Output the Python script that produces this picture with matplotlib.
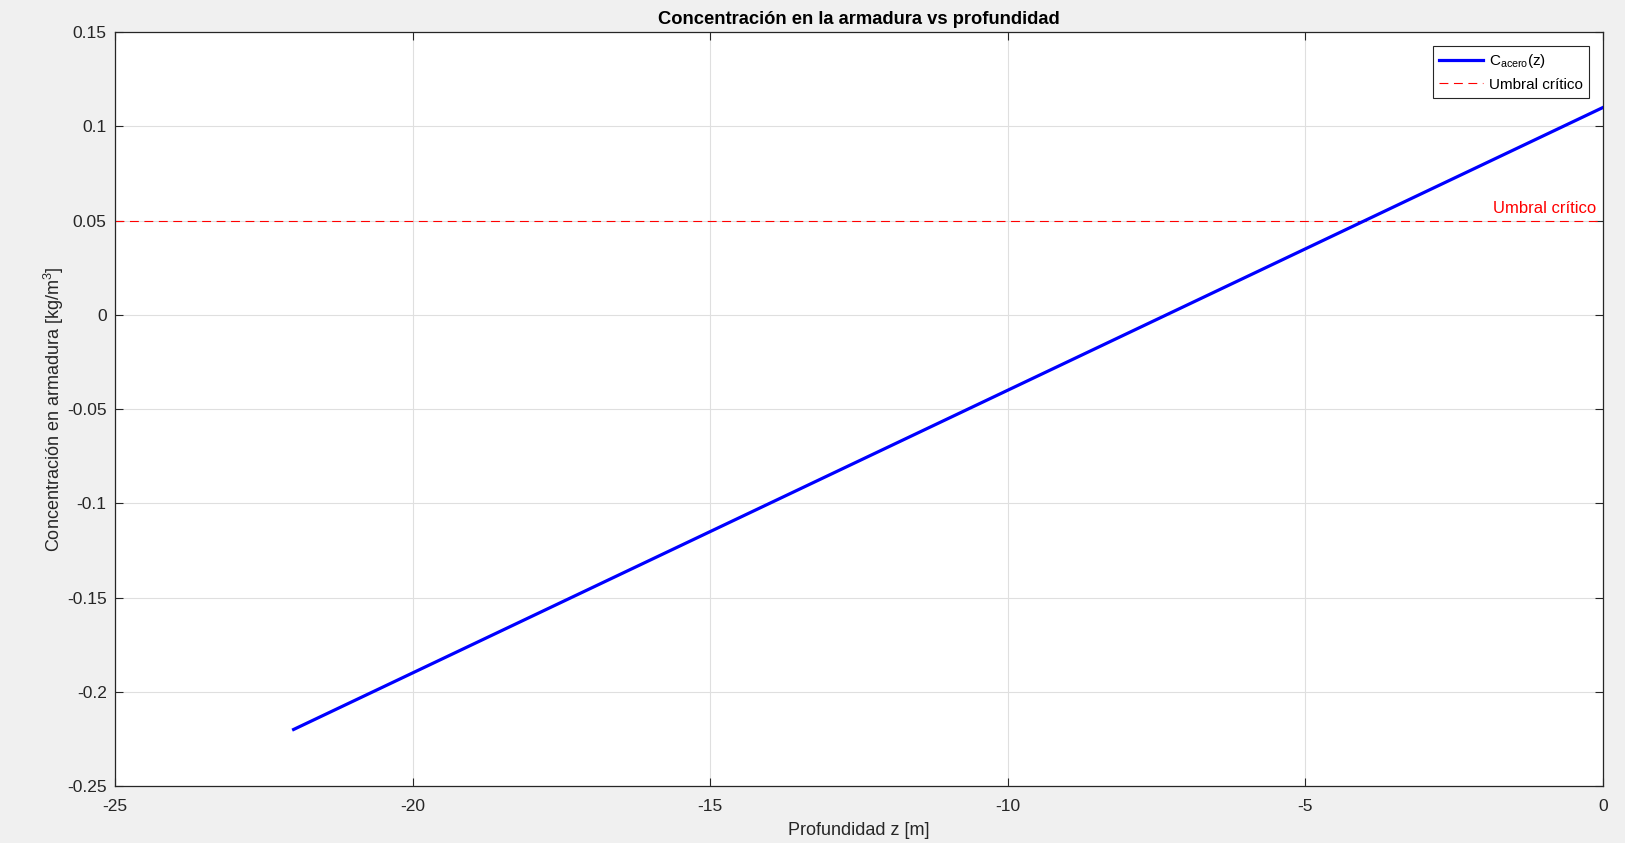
import matplotlib.pyplot as plt
from matplotlib.ticker import FuncFormatter, MultipleLocator

plt.rcParams['font.family'] = ['Liberation Sans', 'DejaVu Sans']
plt.rcParams['mathtext.fontset'] = 'custom'
plt.rcParams['mathtext.rm'] = 'Liberation Sans'
plt.rcParams['mathtext.default'] = 'regular'
plt.rcParams['axes.unicode_minus'] = False

# datos
z = [-22, 0]
c_acero = [-0.22, 0.11]
umbral = 0.05
x_lim = (-25, 0)
y_lim = (-0.25, 0.15)

fig = plt.figure(figsize=(16.25, 8.43), dpi=100, facecolor='#f0f0f0')
ax = fig.add_axes([0.0708, 0.0676, 0.9157, 0.8944])

ax.plot(z, c_acero, color='#0000ff', lw=2.3, label=r'C$_{acero}$(z)', zorder=3)
ax.axhline(umbral, color='#ff0000', lw=0.8, ls=(0, (8, 5)), label='Umbral crítico', zorder=2)
ax.annotate('Umbral crítico', xy=(x_lim[1], umbral), xytext=(-5, 3),
            textcoords='offset points', ha='right', va='bottom',
            color='#ff0000', fontsize=12)

ax.set_xlim(*x_lim)
ax.set_ylim(*y_lim)
ax.xaxis.set_major_locator(MultipleLocator(5))
ax.yaxis.set_major_locator(MultipleLocator(0.05))
fmt = FuncFormatter(lambda v, p: '%g' % round(v, 6))
ax.xaxis.set_major_formatter(fmt)
ax.yaxis.set_major_formatter(fmt)

ax.grid(True, color='#dfdfdf', lw=0.8)
ax.set_axisbelow(True)
ax.tick_params(direction='in', top=True, right=True, length=6, width=0.8,
               labelsize=12.5, colors='#262626', pad=6)
ax.tick_params(axis='x', pad=9)
for s in ax.spines.values():
    s.set_color('#262626')
    s.set_linewidth(0.9)

ax.set_title('Concentración en la armadura vs profundidad', fontsize=13.2,
             fontweight='bold', pad=6)
ax.set_xlabel('Profundidad z [m]', fontsize=13, color='#262626', labelpad=6)
ax.set_ylabel('Concentración en armadura [kg/m$^3$]', fontsize=13, color='#262626',
              labelpad=1)

leg = ax.legend(loc='upper right', fontsize=11, fancybox=False, framealpha=1,
                edgecolor='#262626', borderpad=0.4, handlelength=2.9,
                handletextpad=0.4, borderaxespad=0.9, labelspacing=0.5)
leg.get_frame().set_linewidth(0.8)

fig.savefig('out.png', dpi=100, facecolor=fig.get_facecolor())
